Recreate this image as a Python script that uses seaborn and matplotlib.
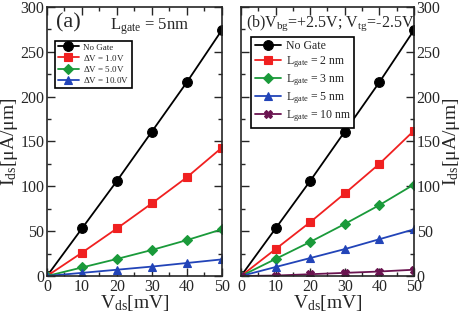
import numpy as np
import pandas as pd
import seaborn as sns
from matplotlib import pyplot as plt
from matplotlib.ticker import MultipleLocator

sns.set_style('ticks')
plt.rcParams['font.family'] = ['Liberation Serif', 'DejaVu Serif']
plt.rcParams['mathtext.fontset'] = 'custom'
plt.rcParams['mathtext.rm'] = 'Liberation Serif'
plt.rcParams['mathtext.it'] = 'Liberation Serif'

vds = [0, 10, 20, 30, 40, 50]

no_gate = [0, 53, 106, 161, 216, 274]
dv_1 = [0, 26, 53, 81, 110, 143]
dv_5 = [0, 9.5, 19, 29, 40, 52]
dv_10 = [0, 3.5, 7, 10.5, 14.5, 18.5]

lg_2 = [0, 30, 60, 92, 125, 162]
lg_3 = [0, 19, 38, 58, 79, 102]
lg_5 = [0, 10, 20, 30, 41, 52]
lg_10 = [0, 0.5, 2, 3.5, 5, 7]

labels_a = ['No Gate', r'$\Delta$V = 1.0V', r'$\Delta$V = 5.0V', r'$\Delta$V = 10.0V']
labels_b = ['No Gate', r'L$_{\rm gate}$ = 2 nm', r'L$_{\rm gate}$ = 3 nm',
            r'L$_{\rm gate}$ = 5 nm', r'L$_{\rm gate}$ = 10 nm']

colors = ['black', '#f02020', '#1a9a3a', '#2244b8', '#6a1450']
markers = ['o', 's', 'D', '^', 'X']
msizes = [7, 6, 4.8, 6, 5.5]


def long_df(series, labels):
    rows = []
    for s, lab in zip(series, labels):
        for x, y in zip(vds, s):
            rows.append({'vds': x, 'ids': y, 'series': lab})
    return pd.DataFrame(rows)


def draw(ax, series, labels):
    df = long_df(series, labels)
    for i, lab in enumerate(labels):
        sns.lineplot(data=df[df.series == lab], x='vds', y='ids', ax=ax, color=colors[i],
                     marker=markers[i], markersize=msizes[i], markeredgecolor=colors[i],
                     markeredgewidth=0.8, linewidth=1.3, label=lab)
    ax.set_xlim(0, 50)
    ax.set_ylim(0, 300)
    ax.xaxis.set_major_locator(MultipleLocator(10))
    ax.xaxis.set_minor_locator(MultipleLocator(5))
    ax.yaxis.set_major_locator(MultipleLocator(50))
    ax.yaxis.set_minor_locator(MultipleLocator(25))
    ax.tick_params(which='both', direction='in', top=True, right=True, labelsize=11.5, pad=2)
    ax.tick_params(which='major', length=6, width=1)
    ax.tick_params(which='minor', length=3, width=1)
    for sp in ax.spines.values():
        sp.set_linewidth(1.2)
    ax.set_xlabel(r'V$_{\rm ds}$[mV]', fontsize=14, labelpad=-1)


fig = plt.figure(figsize=(4.63, 3.14), dpi=100)
ax1 = fig.add_axes([0.1015, 0.121, 0.3775, 0.857])
ax2 = fig.add_axes([0.5205, 0.121, 0.3735, 0.857])

draw(ax1, [no_gate, dv_1, dv_5, dv_10], labels_a)
draw(ax2, [no_gate, lg_2, lg_3, lg_5, lg_10], labels_b)

ax1.set_ylabel(r'I$_{\rm ds}$[$\mu$A/$\mu$m]', fontsize=14, labelpad=0)
ax2.set_ylabel(r'I$_{\rm ds}$[$\mu$A/$\mu$m]', fontsize=14, labelpad=0)
ax2.yaxis.set_label_position('right')
ax2.tick_params(labelleft=False, labelright=True)

ax1.text(0.05, 0.975, '(a)', transform=ax1.transAxes, fontsize=16, va='top')
ax1.text(0.36, 0.965, r'L$_{\rm gate}$ = 5nm', transform=ax1.transAxes, fontsize=12, va='top')
ax2.text(0.03, 0.975, r'(b)V$_{\rm bg}$=+2.5V; V$_{\rm tg}$=-2.5V', transform=ax2.transAxes,
         fontsize=11.5, va='top')

leg1 = ax1.legend(loc='upper left', bbox_to_anchor=(0.045, 0.875), fontsize=6.5, frameon=True,
                  fancybox=False, edgecolor='black', framealpha=1, handlelength=2.4,
                  borderpad=0.3, labelspacing=0.12, handletextpad=0.4, borderaxespad=0)
leg1.get_frame().set_linewidth(1.2)
leg1.set_zorder(10)
leg2 = ax2.legend(loc='upper left', bbox_to_anchor=(0.06, 0.89), fontsize=8.5, frameon=True,
                  fancybox=False, edgecolor='black', framealpha=1, handlelength=2.2,
                  borderpad=0.3, labelspacing=0.2, handletextpad=0.4, borderaxespad=0)
leg2.get_frame().set_linewidth(1.2)
leg2.set_zorder(10)

fig.savefig('out.png', dpi=100)
